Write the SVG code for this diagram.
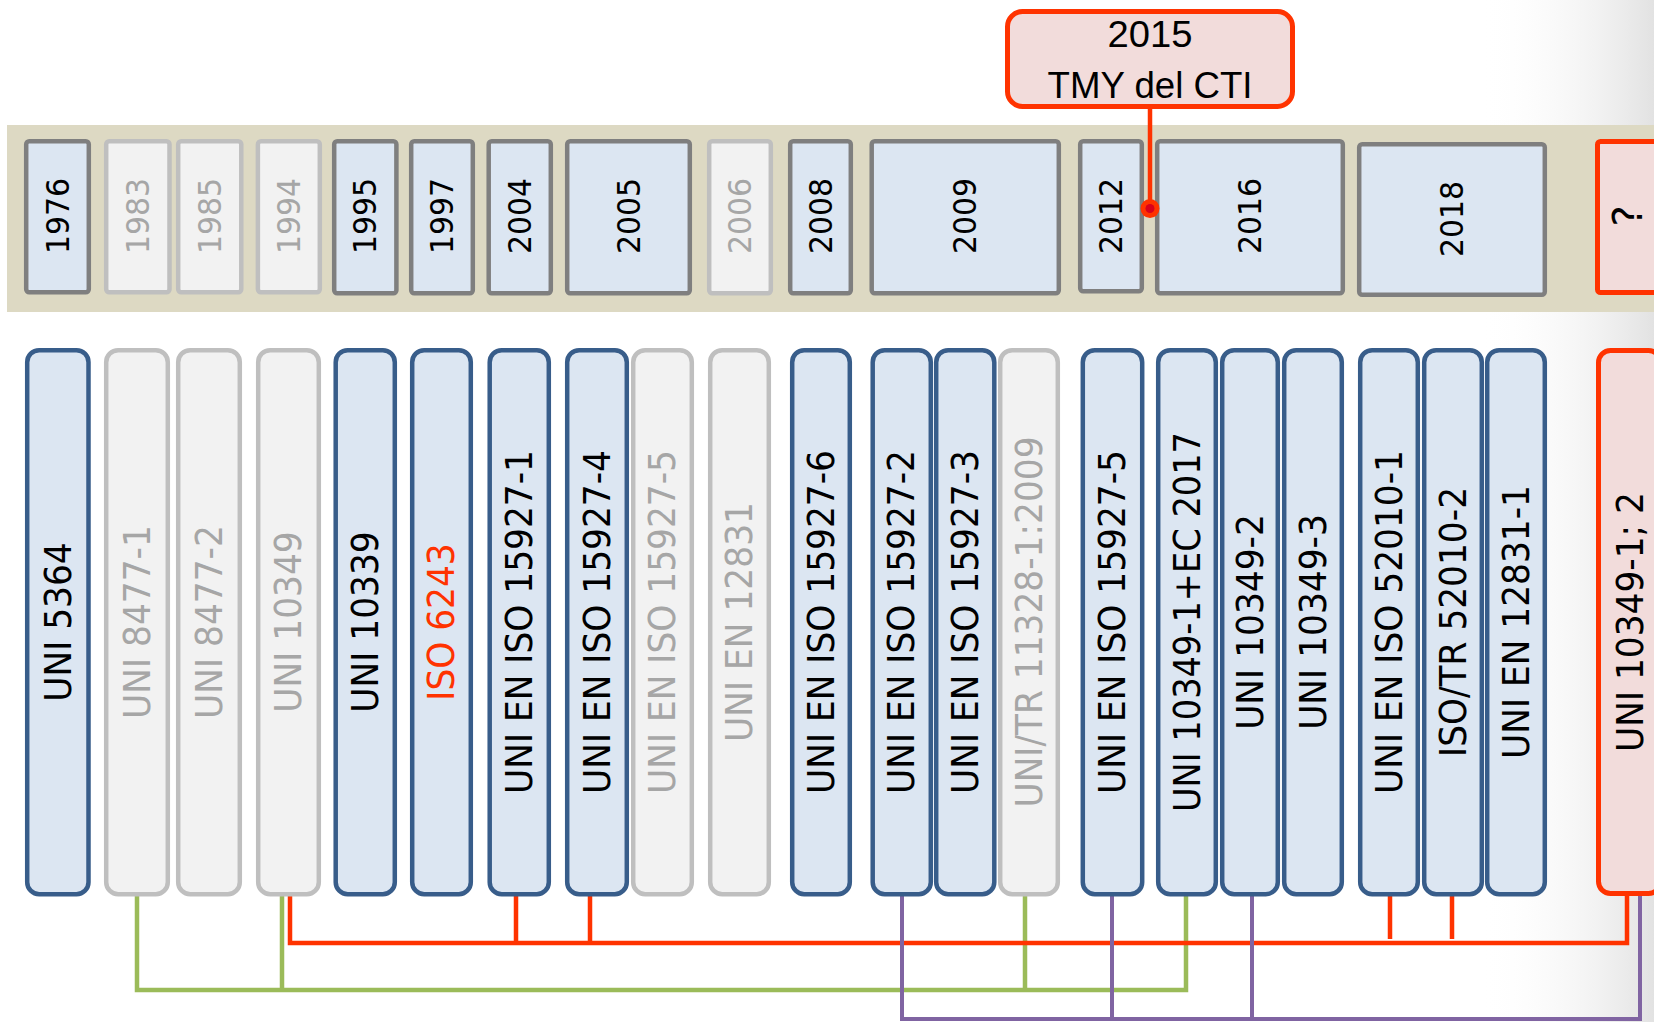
<svg xmlns="http://www.w3.org/2000/svg" width="1654" height="1022" viewBox="0 0 1654 1022">
<defs>
<linearGradient id="shade" x1="0" y1="0" x2="1" y2="0">
<stop offset="0" stop-color="#ffffff" stop-opacity="0"/>
<stop offset="1" stop-color="#e2e2e2" stop-opacity="1"/>
</linearGradient>
<style>
.yb{fill:#dce6f2;stroke:#7f7f7f;stroke-width:4.5}
.yg{fill:#f2f2f2;stroke:#bfbfbf;stroke-width:4.5}
.yr{fill:#f2dcdb;stroke:#ff3300;stroke-width:5}
.sb{fill:#dce6f2;stroke:#385d8a;stroke-width:4.5}
.sg{fill:#f2f2f2;stroke:#bfbfbf;stroke-width:4.5}
.sr{fill:#f2dcdb;stroke:#ff3300;stroke-width:5}
.yt{font-family:"DejaVu Sans",Verdana,sans-serif;font-size:32px;text-anchor:middle;dominant-baseline:central;fill:#000}
.st{font-family:"DejaVu Sans",Verdana,sans-serif;font-size:37px;text-anchor:middle;dominant-baseline:central;fill:#000}
.gt{fill:#a6a6a6}
.rt{fill:#ff3300}
.tm{font-family:"Liberation Sans",Arial,sans-serif;font-size:37px;text-anchor:middle;fill:#000}
.cg{fill:none;stroke:#9bbb59;stroke-width:4.5}
.cr{fill:none;stroke:#ff3300;stroke-width:4.5}
.cp{fill:none;stroke:#8064a2;stroke-width:4}
</style>
</defs>
<rect x="0" y="0" width="1654" height="1022" fill="#ffffff"/>
<rect x="1480" y="0" width="174" height="1022" fill="url(#shade)"/>
<rect id="band" x="7" y="125" width="1647" height="187" fill="#ddd9c3"/>

<g id="connectors">
<path class="cg" d="M137,895 V990 H1186 V895 M282,895 V990 M1025,895 V990"/>
<path class="cr" d="M290,895 V943 H1627 V895 M516,895 V943 M590,895 V943 M1390,895 V939 M1452,895 V939"/>
<path class="cp" d="M902,895 V1019 H1640 V895 M1112,895 V1019 M1252,895 V1019"/>
<path class="cr" d="M1150,108 V208" stroke-width="4"/>
</g>

<g id="years">
<g id="y1976"><rect class="yb" x="26.2" y="141.2" width="62.6" height="151" rx="3"/><text class="yt" transform="translate(57.5,216) rotate(-90)" textLength="76" lengthAdjust="spacingAndGlyphs">1976</text></g>
<g id="y1983"><rect class="yg" x="106.2" y="141.2" width="63.3" height="151" rx="3"/><text class="yt gt" transform="translate(138,216) rotate(-90)" textLength="76" lengthAdjust="spacingAndGlyphs">1983</text></g>
<g id="y1985"><rect class="yg" x="178.2" y="141.2" width="63.1" height="151" rx="3"/><text class="yt gt" transform="translate(209.8,216) rotate(-90)" textLength="76" lengthAdjust="spacingAndGlyphs">1985</text></g>
<g id="y1994"><rect class="yg" x="257.9" y="141.2" width="61.9" height="151" rx="3"/><text class="yt gt" transform="translate(289,216) rotate(-90)" textLength="76" lengthAdjust="spacingAndGlyphs">1994</text></g>
<g id="y1995"><rect class="yb" x="334.2" y="141.2" width="62.2" height="152" rx="3"/><text class="yt" transform="translate(365.3,216) rotate(-90)" textLength="76" lengthAdjust="spacingAndGlyphs">1995</text></g>
<g id="y1997"><rect class="yb" x="411.2" y="141.2" width="61.6" height="152" rx="3"/><text class="yt" transform="translate(442,216) rotate(-90)" textLength="76" lengthAdjust="spacingAndGlyphs">1997</text></g>
<g id="y2004"><rect class="yb" x="488.7" y="141.2" width="62.1" height="152" rx="3"/><text class="yt" transform="translate(519.8,216) rotate(-90)" textLength="76" lengthAdjust="spacingAndGlyphs">2004</text></g>
<g id="y2005"><rect class="yb" x="567.2" y="141.2" width="122.6" height="152" rx="3"/><text class="yt" transform="translate(628.5,216) rotate(-90)" textLength="76" lengthAdjust="spacingAndGlyphs">2005</text></g>
<g id="y2006"><rect class="yg" x="709.2" y="141.2" width="61.6" height="152" rx="3"/><text class="yt gt" transform="translate(740,216) rotate(-90)" textLength="76" lengthAdjust="spacingAndGlyphs">2006</text></g>
<g id="y2008"><rect class="yb" x="790.2" y="141.2" width="60.6" height="152" rx="3"/><text class="yt" transform="translate(820.5,216) rotate(-90)" textLength="76" lengthAdjust="spacingAndGlyphs">2008</text></g>
<g id="y2009"><rect class="yb" x="871.7" y="141.2" width="187.1" height="152" rx="3"/><text class="yt" transform="translate(965.3,216) rotate(-90)" textLength="76" lengthAdjust="spacingAndGlyphs">2009</text></g>
<g id="y2012"><rect class="yb" x="1080.2" y="141.2" width="61.6" height="150" rx="3"/><text class="yt" transform="translate(1111,216) rotate(-90)" textLength="76" lengthAdjust="spacingAndGlyphs">2012</text></g>
<g id="y2016"><rect class="yb" x="1157.2" y="141.2" width="185.6" height="152" rx="3"/><text class="yt" transform="translate(1250,216) rotate(-90)" textLength="76" lengthAdjust="spacingAndGlyphs">2016</text></g>
<g id="y2018"><rect class="yb" x="1359.2" y="144.2" width="185.6" height="150.6" rx="3"/><text class="yt" transform="translate(1452,219) rotate(-90)" textLength="76" lengthAdjust="spacingAndGlyphs">2018</text></g>
<g id="yq"><rect class="yr" x="1597.5" y="141.5" width="62" height="151" rx="3"/><text class="yt" style="font-size:40px" transform="translate(1628,216) rotate(-90)">?</text></g>
</g>

<g id="tmy">
<rect x="1007.5" y="11.5" width="285" height="95" rx="15" fill="#f2dcdb" stroke="#ff3300" stroke-width="5"/>
<text class="tm" x="1150" y="47" textLength="85" lengthAdjust="spacingAndGlyphs">2015</text>
<text class="tm" x="1150" y="98" textLength="205" lengthAdjust="spacingAndGlyphs">TMY del CTI</text>
<circle cx="1150" cy="208.5" r="9.5" fill="#ff3300"/>
<circle cx="1150" cy="208.5" r="4.5" fill="#d9001b"/>
</g>

<g id="standards">
<g id="s-uni5364"><rect class="sb" x="27.2" y="350.2" width="61.3" height="544" rx="12"/><text class="st" transform="translate(58,622) rotate(-90)" textLength="159.5" lengthAdjust="spacingAndGlyphs">UNI 5364</text></g>
<g id="s-uni8477-1"><rect class="sg" x="106.2" y="350.2" width="61.6" height="544" rx="12"/><text class="st gt" transform="translate(137,622) rotate(-90)" textLength="193.8" lengthAdjust="spacingAndGlyphs">UNI 8477-1</text></g>
<g id="s-uni8477-2"><rect class="sg" x="178.2" y="350.2" width="61.6" height="544" rx="12"/><text class="st gt" transform="translate(209,622) rotate(-90)" textLength="193.8" lengthAdjust="spacingAndGlyphs">UNI 8477-2</text></g>
<g id="s-uni10349"><rect class="sg" x="258.2" y="350.2" width="60.6" height="544" rx="12"/><text class="st gt" transform="translate(288.5,622) rotate(-90)" textLength="181.4" lengthAdjust="spacingAndGlyphs">UNI 10349</text></g>
<g id="s-uni10339"><rect class="sb" x="335.7" y="350.2" width="59.1" height="544" rx="12"/><text class="st" transform="translate(365.3,622) rotate(-90)" textLength="181.4" lengthAdjust="spacingAndGlyphs">UNI 10339</text></g>
<g id="s-iso6243"><rect class="sb" x="412.2" y="350.2" width="58.6" height="544" rx="12"/><text class="st rt" transform="translate(441.5,622) rotate(-90)" textLength="157.5" lengthAdjust="spacingAndGlyphs">ISO 6243</text></g>
<g id="s-15927-1"><rect class="sb" x="489.7" y="350.2" width="59.1" height="544" rx="12"/><text class="st" transform="translate(519.3,622) rotate(-90)" textLength="344" lengthAdjust="spacingAndGlyphs">UNI EN ISO 15927-1</text></g>
<g id="s-15927-4"><rect class="sb" x="567.2" y="350.2" width="59.6" height="544" rx="12"/><text class="st" transform="translate(597,622) rotate(-90)" textLength="344" lengthAdjust="spacingAndGlyphs">UNI EN ISO 15927-4</text></g>
<g id="s-15927-5g"><rect class="sg" x="633.2" y="350.2" width="58.6" height="544" rx="12"/><text class="st gt" transform="translate(662.5,622) rotate(-90)" textLength="344" lengthAdjust="spacingAndGlyphs">UNI EN ISO 15927-5</text></g>
<g id="s-12831"><rect class="sg" x="710.2" y="350.2" width="58.6" height="544" rx="12"/><text class="st gt" transform="translate(739.5,622) rotate(-90)" textLength="239.8" lengthAdjust="spacingAndGlyphs">UNI EN 12831</text></g>
<g id="s-15927-6"><rect class="sb" x="792.2" y="350.2" width="57.6" height="544" rx="12"/><text class="st" transform="translate(821,622) rotate(-90)" textLength="344" lengthAdjust="spacingAndGlyphs">UNI EN ISO 15927-6</text></g>
<g id="s-15927-2"><rect class="sb" x="872.7" y="350.2" width="58.1" height="544" rx="12"/><text class="st" transform="translate(901.8,622) rotate(-90)" textLength="344" lengthAdjust="spacingAndGlyphs">UNI EN ISO 15927-2</text></g>
<g id="s-15927-3"><rect class="sb" x="936.2" y="350.2" width="58.1" height="544" rx="12"/><text class="st" transform="translate(965.3,622) rotate(-90)" textLength="344" lengthAdjust="spacingAndGlyphs">UNI EN ISO 15927-3</text></g>
<g id="s-uni-tr-11328"><rect class="sg" x="1000.2" y="350.2" width="57.6" height="544" rx="12"/><text class="st gt" transform="translate(1029,622) rotate(-90)" textLength="371" lengthAdjust="spacingAndGlyphs">UNI/TR 11328-1:2009</text></g>
<g id="s-15927-5"><rect class="sb" x="1082.8" y="350.2" width="59.4" height="544" rx="12"/><text class="st" transform="translate(1112.5,622) rotate(-90)" textLength="344" lengthAdjust="spacingAndGlyphs">UNI EN ISO 15927-5</text></g>
<g id="s-10349-1ec"><rect class="sb" x="1158.2" y="350.2" width="57.6" height="544" rx="12"/><text class="st" transform="translate(1187,622) rotate(-90)" textLength="380" lengthAdjust="spacingAndGlyphs">UNI 10349-1+EC 2017</text></g>
<g id="s-10349-2"><rect class="sb" x="1222.2" y="350.2" width="55.6" height="544" rx="12"/><text class="st" transform="translate(1250,622) rotate(-90)" textLength="215.7" lengthAdjust="spacingAndGlyphs">UNI 10349-2</text></g>
<g id="s-10349-3"><rect class="sb" x="1284.2" y="350.2" width="57.6" height="544" rx="12"/><text class="st" transform="translate(1313,622) rotate(-90)" textLength="215.7" lengthAdjust="spacingAndGlyphs">UNI 10349-3</text></g>
<g id="s-52010-1"><rect class="sb" x="1360.2" y="350.2" width="57.6" height="544" rx="12"/><text class="st" transform="translate(1389,622) rotate(-90)" textLength="344" lengthAdjust="spacingAndGlyphs">UNI EN ISO 52010-1</text></g>
<g id="s-52010-2"><rect class="sb" x="1424.2" y="350.2" width="57.6" height="544" rx="12"/><text class="st" transform="translate(1453,622) rotate(-90)" textLength="270" lengthAdjust="spacingAndGlyphs">ISO/TR 52010-2</text></g>
<g id="s-12831-1"><rect class="sb" x="1487.2" y="350.2" width="57.6" height="544" rx="12"/><text class="st" transform="translate(1516,622) rotate(-90)" textLength="274" lengthAdjust="spacingAndGlyphs">UNI EN 12831-1</text></g>
<g id="s-10349-new"><rect class="sr" x="1598.5" y="350.5" width="62" height="543" rx="12"/><text class="st" transform="translate(1630,622) rotate(-90)" textLength="260" lengthAdjust="spacingAndGlyphs">UNI 10349-1; 2</text></g>
</g>
</svg>
